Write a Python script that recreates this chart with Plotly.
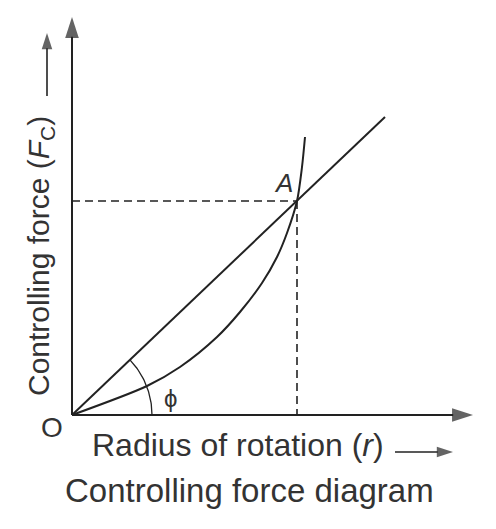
import numpy as np
import plotly.graph_objects as go

# ---- data (r, Fc in arbitrary diagram units) ----
line_r = [0.0, 31.3]
line_fc = [0.0, 29.8]
curve_r = [0.0, 7.5, 10.8, 14.5, 16.8, 19.0, 20.5, 21.5, 22.5, 23.0, 23.3]
curve_fc = [0.0, 2.9, 4.8, 7.8, 10.3, 13.2, 15.8, 18.2, 21.4, 24.8, 27.8]
point_a = (22.5, 21.4)
axis_r_max = 40.1
axis_fc_max = 39.8
arc_radius = 8.0

FONT = "Liberation Sans, Arial, sans-serif"
INK = "#222222"
TXT = "#333333"

fig = go.Figure()

def arrow_line(xs, ys, width, size, color):
    fig.add_trace(go.Scatter(
        x=xs, y=ys, mode="lines+markers",
        line=dict(color=color, width=width),
        marker=dict(symbol="arrow", angleref="previous", size=[0, size],
                    color=color, line=dict(width=0)),
        hoverinfo="skip"))

# axes with arrows
arrow_line([0, axis_r_max], [0, 0], 2, 22, INK)
arrow_line([0, 0], [0, axis_fc_max], 2, 22, INK)
# label arrows
arrow_line([32.3, 38.1], [-3.7, -3.7], 1.6, 17, INK)
arrow_line([-2.5, -2.5], [31.9, 38.2], 1.6, 17, INK)

# straight line and curve
fig.add_trace(go.Scatter(x=line_r, y=line_fc, mode="lines",
                         line=dict(color=INK, width=2), hoverinfo="skip"))
fig.add_trace(go.Scatter(x=curve_r, y=curve_fc, mode="lines",
                         line=dict(color=INK, width=2, shape="spline", smoothing=0.8),
                         hoverinfo="skip"))
# dashed projection lines
fig.add_trace(go.Scatter(x=[0, point_a[0]], y=[point_a[1], point_a[1]], mode="lines",
                         line=dict(color=INK, width=1.6, dash="8px,5px"), hoverinfo="skip"))
fig.add_trace(go.Scatter(x=[point_a[0], point_a[0]], y=[point_a[1], 0], mode="lines",
                         line=dict(color=INK, width=1.6, dash="8px,5px"), hoverinfo="skip"))
# angle arc phi
ang = np.arctan2(line_fc[1], line_r[1])
t = np.linspace(0, ang, 40)
fig.add_trace(go.Scatter(x=arc_radius * np.cos(t), y=arc_radius * np.sin(t), mode="lines",
                         line=dict(color=INK, width=1.3), hoverinfo="skip"))

ann = []
ann.append(dict(x=16.6, y=-3.0, xref="x", yref="y", showarrow=False,
                text="Radius of rotation (<i>r</i>)", font=dict(size=32, color=TXT, family=FONT)))
ann.append(dict(x=-3.2, y=15.9, xref="x", yref="y", showarrow=False, textangle=-90,
                text="Controlling force (<i>F</i><sub>C</sub>)", font=dict(size=30, color=TXT, family=FONT)))
ann.append(dict(x=17.7, y=-7.5, xref="x", yref="y", showarrow=False,
                text="Controlling force diagram", font=dict(size=33, color=TXT, family=FONT)))
ann.append(dict(x=-2.0, y=-1.2, xref="x", yref="y", showarrow=False,
                text="O", font=dict(size=28, color=TXT, family=FONT)))
ann.append(dict(x=21.1, y=23.2, xref="x", yref="y", showarrow=False,
                text="<i>A</i>", font=dict(size=26, color=TXT, family=FONT)))
ann.append(dict(x=9.8, y=1.7, xref="x", yref="y", showarrow=False,
                text="ϕ", font=dict(size=24, color=TXT, family=FONT)))

fig.update_layout(
    width=488, height=521,
    margin=dict(l=0, r=0, t=0, b=0),
    paper_bgcolor="white", plot_bgcolor="white",
    showlegend=False,
    annotations=ann,
    xaxis=dict(range=[-6.4, 42.4], visible=False, fixedrange=True),
    yaxis=dict(range=[-11.4, 40.7], visible=False, fixedrange=True),
)

fig.write_html("out.html")
